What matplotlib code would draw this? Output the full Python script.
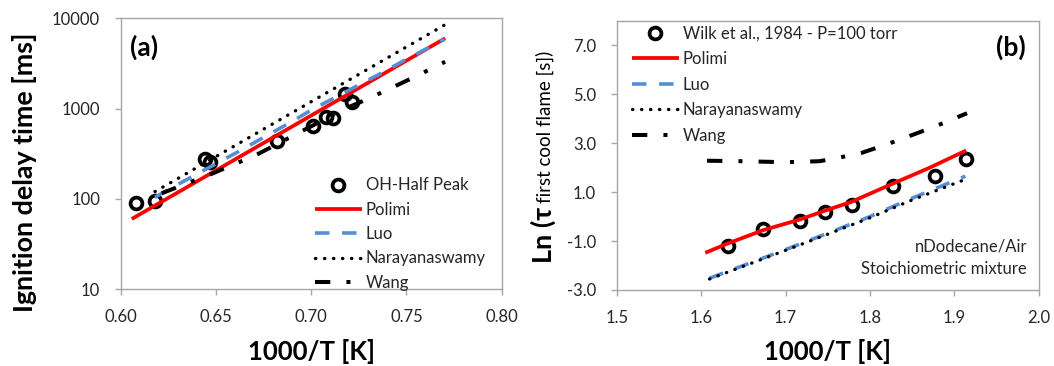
# ignition delay / cool flame comparison, two panels (a) and (b)
import matplotlib
matplotlib.use("Agg")
from matplotlib import pyplot as plt

plt.rcParams["font.family"] = ["Lato", "DejaVu Sans"]
plt.rcParams["axes.unicode_minus"] = False

### panel (a) data: ignition delay time [ms] vs 1000/T
a_exp_x = [0.6079, 0.6180, 0.6440, 0.6470, 0.6822, 0.7010, 0.7080, 0.7112, 0.7176, 0.7213]
a_exp_y = [90.5, 94, 276, 253, 436, 640, 798, 785, 1436, 1190]

a_polimi_x = [0.6058, 0.7703]
a_polimi_y = [59.7, 6000]

a_luo_x = [0.618, 0.632, 0.662, 0.690, 0.700, 0.737, 0.750, 0.770]
a_luo_y = [104, 152, 335, 720, 960, 2480, 3520, 5850]

a_nara_x = [0.618, 0.660, 0.700, 0.740, 0.770]
a_nara_y = [120, 388, 1190, 3640, 8430]

a_wang_x = [0.6215, 0.648, 0.671, 0.695, 0.718, 0.7305, 0.7545, 0.7703]
a_wang_y = [115, 190, 305, 560, 1000, 1300, 2250, 3300]

a_xticks = [0.60, 0.65, 0.70, 0.75, 0.80]
a_xlabels = ["0.60", "0.65", "0.70", "0.75", "0.80"]
a_yticks = [10, 100, 1000, 10000]
a_ylabels = ["10", "100", "1000", "10000"]

### panel (b) data: Ln(tau first cool flame [s]) vs 1000/T
b_exp_x = [1.6322, 1.6730, 1.7172, 1.7468, 1.7784, 1.8277, 1.8771, 1.9139]
b_exp_y = [-1.20, -0.52, -0.18, 0.20, 0.47, 1.26, 1.67, 2.35]

b_polimi_x = [1.605, 1.630, 1.674, 1.717, 1.745, 1.778, 1.824, 1.871, 1.914]
b_polimi_y = [-1.48, -1.12, -0.55, -0.12, 0.22, 0.60, 1.30, 2.00, 2.70]

b_luo_x = [1.610, 1.650, 1.700, 1.750, 1.800, 1.850, 1.913]
b_luo_y = [-2.52, -2.00, -1.35, -0.68, 0.00, 0.75, 1.65]

b_nara_x = [1.610, 1.650, 1.700, 1.750, 1.800, 1.850, 1.913]
b_nara_y = [-2.55, -2.03, -1.38, -0.72, -0.05, 0.68, 1.52]

b_wang_x = [1.607, 1.650, 1.700, 1.740, 1.760, 1.790, 1.820, 1.850, 1.880, 1.915]
b_wang_y = [2.28, 2.26, 2.22, 2.26, 2.38, 2.60, 2.95, 3.33, 3.72, 4.22]

b_xticks = [1.5, 1.6, 1.7, 1.8, 1.9, 2.0]
b_xlabels = ["1.5", "1.6", "1.7", "1.8", "1.9", "2.0"]
b_yticks = [-3.0, -1.0, 1.0, 3.0, 5.0, 7.0]
b_ylabels = ["-3.0", "-1.0", "1.0", "3.0", "5.0", "7.0"]

### styles
red = "#ff0000"
blue = "#558ed5"
grey = "#a6a6a6"
txt = "#262626"
mk = dict(marker="o", ms=8.5, mew=2.7, mfc="none", mec="black", ls="none")
polimi_st = dict(color=red, lw=2.7, solid_capstyle="butt")
luo_st = dict(color=blue, lw=2.6, ls=(0, (4, 3.5)), dash_capstyle="butt")
nara_st = dict(color="black", lw=2.4, ls=(0, (0.1, 2.6)), dash_capstyle="round")
wang_st = dict(color="black", lw=2.9, ls=(0, (3.8, 4.0, 1.0, 4.0)), dash_capstyle="butt")


def style_axes(ax):
    for s in ax.spines.values():
        s.set_color(grey)
        s.set_linewidth(1.0)
    ax.tick_params(axis="both", direction="out", length=4.3, width=1.0, color=grey,
                   labelsize=12, labelcolor=txt)
    ax.tick_params(axis="x", pad=10)
    ax.tick_params(axis="y", pad=10.5)
    ax.minorticks_off()


fig = plt.figure(figsize=(10.54, 3.66), dpi=100)
W, H = 1054.0, 366.0

### panel (a)
axa = fig.add_axes([120.7 / W, 1 - 289 / H, 381 / W, 270.7 / H])
axa.plot(a_exp_x, a_exp_y, label="OH-Half Peak", **mk)
axa.plot(a_polimi_x, a_polimi_y, label="Polimi", **polimi_st)
axa.plot(a_luo_x, a_luo_y, label="Luo", **luo_st)
axa.plot(a_nara_x, a_nara_y, label="Narayanaswamy", **nara_st)
axa.plot(a_wang_x, a_wang_y, label="Wang", **wang_st)
axa.set_yscale("log")
axa.set_xlim(0.60, 0.80)
axa.set_ylim(10, 10000)
axa.set_xticks(a_xticks, a_xlabels)
axa.set_yticks(a_yticks, a_ylabels)
style_axes(axa)
axa.text(144 / W, 1 - 47 / H, "(a)", transform=fig.transFigure, fontsize=19,
         fontweight="bold", color="black", va="center", ha="center")
axa.legend(loc="upper left", bbox_to_anchor=(315 / W, 1 - 177.5 / H),
           bbox_transform=fig.transFigure, frameon=False, fontsize=12,
           handlelength=2.8, handletextpad=0.25, labelspacing=0.5,
           borderpad=0, borderaxespad=0, labelcolor=txt)

### panel (b)
axb = fig.add_axes([616.7 / W, 1 - 290 / H, 422.1 / W, 269.3 / H])
axb.plot(b_exp_x, b_exp_y, label="Wilk et al., 1984 - P=100 torr", **mk)
axb.plot(b_polimi_x, b_polimi_y, label="Polimi", **polimi_st)
axb.plot(b_luo_x, b_luo_y, label="Luo", **luo_st)
axb.plot(b_nara_x, b_nara_y, label="Narayanaswamy", **nara_st)
axb.plot(b_wang_x, b_wang_y, label="Wang", **wang_st)
axb.set_xlim(1.5, 2.0)
axb.set_ylim(-3.0, 8.0)
axb.set_xticks(b_xticks, b_xlabels)
axb.set_yticks(b_yticks, b_ylabels)
style_axes(axb)
axb.text(1011 / W, 1 - 47 / H, "(b)", transform=fig.transFigure, fontsize=19,
         fontweight="bold", color="black", va="center", ha="center")
axb.text(1027 / W, 1 - 247 / H, "nDodecane/Air", transform=fig.transFigure,
         fontsize=12, color=txt, ha="right", va="center")
axb.text(1027 / W, 1 - 269.5 / H, "Stoichiometric mixture", transform=fig.transFigure,
         fontsize=12, color=txt, ha="right", va="center")
axb.legend(loc="upper left", bbox_to_anchor=(632 / W, 1 - 25.5 / H),
           bbox_transform=fig.transFigure, frameon=False, fontsize=12,
           handlelength=2.8, handletextpad=0.25, labelspacing=0.57,
           borderpad=0, borderaxespad=0, labelcolor=txt)

### axis labels
fig.text(311.5 / W, 1 - 352 / H, "1000/T [K]", fontsize=18.5, fontweight="bold",
         ha="center", va="center")
fig.text(828 / W, 1 - 352 / H, "1000/T [K]", fontsize=18.5, fontweight="bold",
         ha="center", va="center")
fig.text(25 / W, 1 - 172 / H, "Ignition delay time [ms]", fontsize=19.4,
         fontweight="bold", rotation=90, ha="center", va="center")

# (b) y label in two pieces: big bold "Ln (τ" then smaller "first cool flame [s])"
t1 = fig.text(543 / W, 1 - 263 / H, "Ln (τ", fontsize=19.5, fontweight="bold",
              rotation=90, ha="center", va="bottom")
fig.canvas.draw()
bb = t1.get_window_extent()
fig.text(545 / W, (bb.y1 + 4) / H, "first cool flame [s])", fontsize=13.5,
         rotation=90, ha="center", va="bottom")

fig.savefig("out.png", dpi=100)
